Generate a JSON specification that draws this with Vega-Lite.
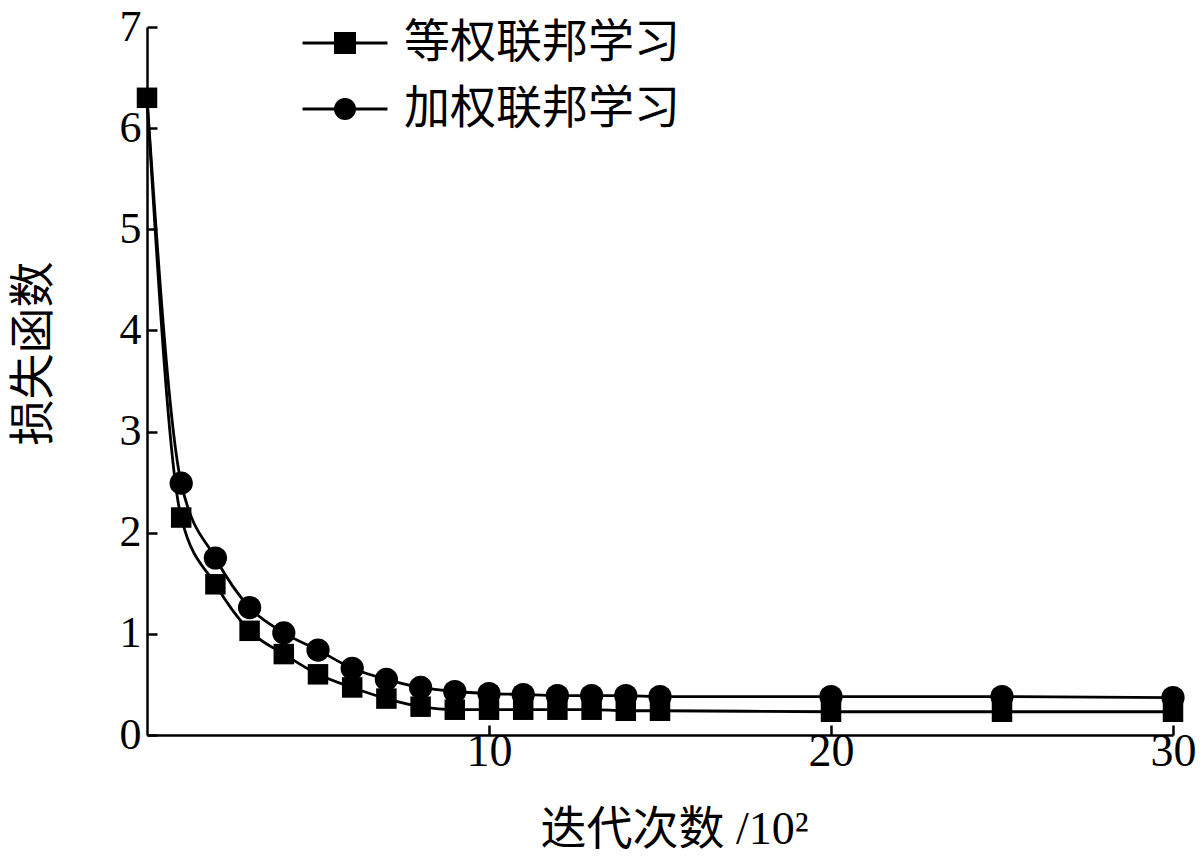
{
  "$schema": "https://vega.github.io/schema/vega-lite/v6.json",
  "width": 1026,
  "height": 708,
  "autosize": "none",
  "padding": {"left": 147, "top": 27, "right": 27, "bottom": 129},
  "background": "white",
  "config": {
    "view": {"stroke": null},
    "font": "Liberation Serif, Noto Sans CJK SC",
    "axis": {"grid": false, "domainColor": "black", "domainWidth": 2.5, "tickColor": "black", "tickWidth": 2.5, "labelColor": "black", "titleColor": "black", "labelFont": "Liberation Serif", "labelFontSize": 46, "titleFont": "Liberation Serif, Noto Sans CJK SC", "titleFontSize": 46, "titleFontWeight": "normal"}
  },
  "data": {"values": [
    {"iter": 0, "loss": 6.3, "series": "加权联邦学习"},
    {"iter": 1, "loss": 2.49, "series": "加权联邦学习"},
    {"iter": 2, "loss": 1.75, "series": "加权联邦学习"},
    {"iter": 3, "loss": 1.26, "series": "加权联邦学习"},
    {"iter": 4, "loss": 1.01, "series": "加权联邦学习"},
    {"iter": 5, "loss": 0.84, "series": "加权联邦学习"},
    {"iter": 6, "loss": 0.66, "series": "加权联邦学习"},
    {"iter": 7, "loss": 0.55, "series": "加权联邦学习"},
    {"iter": 8, "loss": 0.47, "series": "加权联邦学习"},
    {"iter": 9, "loss": 0.43, "series": "加权联邦学习"},
    {"iter": 10, "loss": 0.41, "series": "加权联邦学习"},
    {"iter": 11, "loss": 0.4, "series": "加权联邦学习"},
    {"iter": 12, "loss": 0.39, "series": "加权联邦学习"},
    {"iter": 13, "loss": 0.39, "series": "加权联邦学习"},
    {"iter": 14, "loss": 0.39, "series": "加权联邦学习"},
    {"iter": 15, "loss": 0.38, "series": "加权联邦学习"},
    {"iter": 20, "loss": 0.38, "series": "加权联邦学习"},
    {"iter": 25, "loss": 0.38, "series": "加权联邦学习"},
    {"iter": 30, "loss": 0.37, "series": "加权联邦学习"},
    {"iter": 0, "loss": 6.3, "series": "等权联邦学习"},
    {"iter": 1, "loss": 2.15, "series": "等权联邦学习"},
    {"iter": 2, "loss": 1.49, "series": "等权联邦学习"},
    {"iter": 3, "loss": 1.03, "series": "等权联邦学习"},
    {"iter": 4, "loss": 0.8, "series": "等权联邦学习"},
    {"iter": 5, "loss": 0.6, "series": "等权联邦学习"},
    {"iter": 6, "loss": 0.47, "series": "等权联邦学习"},
    {"iter": 7, "loss": 0.36, "series": "等权联邦学习"},
    {"iter": 8, "loss": 0.28, "series": "等权联邦学习"},
    {"iter": 9, "loss": 0.25, "series": "等权联邦学习"},
    {"iter": 10, "loss": 0.25, "series": "等权联邦学习"},
    {"iter": 11, "loss": 0.25, "series": "等权联邦学习"},
    {"iter": 12, "loss": 0.25, "series": "等权联邦学习"},
    {"iter": 13, "loss": 0.25, "series": "等权联邦学习"},
    {"iter": 14, "loss": 0.24, "series": "等权联邦学习"},
    {"iter": 15, "loss": 0.24, "series": "等权联邦学习"},
    {"iter": 20, "loss": 0.23, "series": "等权联邦学习"},
    {"iter": 25, "loss": 0.23, "series": "等权联邦学习"},
    {"iter": 30, "loss": 0.23, "series": "等权联邦学习"}
  ]},
  "encoding": {
    "x": {"field": "iter", "type": "quantitative", "scale": {"domain": [0, 30], "nice": false, "zero": true},
      "axis": {"values": [10, 20, 30], "tickSize": -10, "labelPadding": 4, "labelFlush": false, "title": "迭代次数 /10²", "titleX": 527, "titleY": 108, "titleAlign": "center", "titleBaseline": "alphabetic"}},
    "y": {"field": "loss", "type": "quantitative", "scale": {"domain": [0, 7], "nice": false},
      "axis": {"values": [0, 1, 2, 3, 4, 5, 6, 7], "tickSize": -10, "labelPadding": 16, "labelFontSize": 44, "labelFlush": false, "title": "损失函数", "titleX": -114, "titleY": 326, "titleAngle": 270, "titleAlign": "center", "titleBaseline": "middle"}}
  },
  "layer": [
    {
      "mark": {"type": "line", "interpolate": "monotone", "strokeWidth": 2.8},
      "encoding": {
        "color": {"field": "series", "type": "nominal", "sort": "descending", "scale": {"range": ["black", "black"]},
          "legend": {"orient": "none", "legendX": 175, "legendY": -7, "padding": 0, "title": null, "symbolType": "M-3.86,0H3.86", "symbolSize": 484, "symbolStrokeWidth": 2.8, "labelFont": "Noto Sans CJK SC", "labelFontSize": 46, "labelColor": "black", "labelOffset": 36, "labelLimit": 0, "rowPadding": 20}}
      }
    },
    {
      "transform": [{"filter": "datum.series === '加权联邦学习' && datum.iter > 0"}],
      "mark": {"type": "point", "filled": true, "opacity": 1, "color": "black", "size": 540},
      "encoding": {
        "shape": {"field": "series", "type": "nominal", "scale": {"domain": ["等权联邦学习", "加权联邦学习"], "range": ["square", "circle"]},
          "legend": {"orient": "none", "legendX": 175, "legendY": -7, "padding": 0, "title": null, "symbolSize": 484, "symbolStrokeWidth": 0, "symbolFillColor": "black", "symbolOpacity": 1, "labelFont": "Noto Sans CJK SC", "labelFontSize": 46, "labelOpacity": 0, "labelOffset": 36, "labelLimit": 0, "rowPadding": 20}}
      }
    },
    {
      "transform": [{"filter": "datum.series === '等权联邦学习'"}],
      "mark": {"type": "point", "filled": true, "opacity": 1, "color": "black", "size": 420},
      "encoding": {
        "shape": {"field": "series", "type": "nominal"}
      }
    }
  ]
}
